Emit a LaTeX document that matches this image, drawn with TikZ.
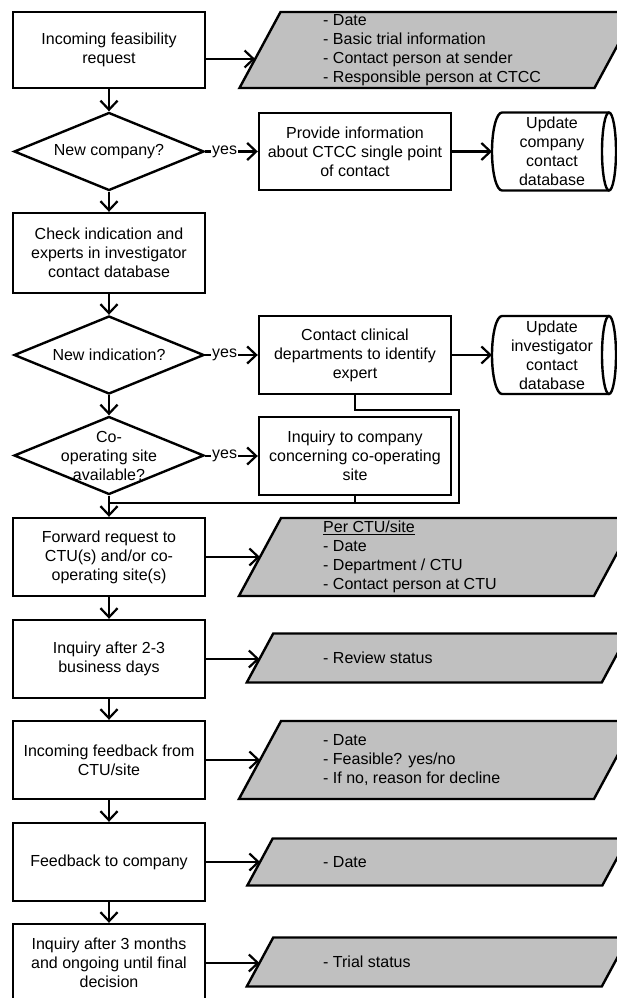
\documentclass[tikz,border=0pt]{standalone}
\usepackage{fontspec}
\setmainfont{Liberation Sans}
\usetikzlibrary{shapes.geometric,arrows.meta,calc}
\definecolor{iogray}{RGB}{192,192,192}
\tikzset{
  lw/.style={line width=2.4pt},
  arr/.style={lw,-{Straight Barb[length=9pt,width=17pt,line width=2.2pt]}},
  conn/.style={lw},
  box/.style={draw,lw,fill=white,rectangle,minimum width=192pt,minimum height=78pt,align=center,inner sep=1pt,font=\fontsize{16}{19}\selectfont},
  dia/.style={draw,lw,fill=white,diamond,minimum width=190pt,minimum height=78pt,inner sep=0pt},
  dtext/.style={align=center,inner sep=0pt,font=\fontsize{16}{19}\selectfont},
  iofill/.style={draw,lw,fill=iogray},
  iotext/.style={anchor=west,align=left,inner sep=0pt,font=\fontsize{16}{19}\selectfont},
  yeslab/.style={fill=white,inner sep=1pt,font=\fontsize{16}{19}\selectfont},
  dbtext/.style={align=center,inner sep=0pt,font=\fontsize{16}{19}\selectfont}
}
\newcommand\ioshape[5]{%
  \pgfmathsetmacro\dxx{0.54*#3}%
  \draw[iofill] ({260-\dxx},{#2+#3}) -- ({260+\dxx},{#2-#3}) -- ({615+\dxx},{#2-#3}) -- ({615-\dxx},{#2+#3}) -- cycle;
  \coordinate (#1a) at ({260-0.54*(#4-#2)},#4);
  \node[iotext] (#1) at (323,#2) {#5};
}
\newcommand\dbshape[3]{% name, yc, text
  \draw[lw,fill=white] (609,{#2-39}) -- (502,{#2-39}) arc[start angle=270,end angle=90,x radius=10,y radius=39] -- (609,{#2+39});
  \draw[lw,fill=white] (609,#2) ellipse[x radius=7,y radius=39];
  \coordinate (#1w) at (492,#2);
  \node[dbtext] (#1) at (552,#2) {#3};
}
\begin{document}
\begin{tikzpicture}[x=1pt,y=-1pt]
\useasboundingbox (0,0) rectangle (617,998);
\clip (0,0) rectangle (617,998);

% left column
\node[box] (b1) at (109,50) [minimum height=76pt] {Incoming feasibility\\request};
\node[dia] (d1) at (109,151.5) {};
\node[dtext] (d1t) at (d1) {New company?};
\node[box] (b2) at (109,253) [minimum height=80pt] {Check indication and\\experts in investigator\\contact database};
\node[dia] (d2) at (109,355) {};
\node[dtext] (d2t) at (d2) {New indication?};
\node[dia] (d3) at (109,455.5) {};
\node[dtext] (d3t) at (109,456) {Co-\\operating site\\available?};
\node[box] (b3) at (109,557) {Forward request to\\CTU(s) and/or co-\\operating site(s)};
\node[box] (b4) at (109,659) {Inquiry after 2-3\\business days};
\node[box] (b5) at (109,760) {Incoming feedback from\\CTU/site};
\node[box] (b6) at (109,862) {Feedback to company};
\node[box] (b7) at (109,963) {Inquiry after 3 months\\and ongoing until final\\decision};

% right boxes
\node[box] (r1) at (355,151.5) [minimum height=77pt] {Provide information\\about CTCC single point\\of contact};
\node[box] (r2) at (355,355) [minimum height=78pt] {Contact clinical\\departments to identify\\expert};
\node[box] (r3) at (355,456) [minimum height=78pt] {Inquiry to company\\concerning co-operating\\site};

% databases
\dbshape{db1}{151.5}{Update\\company\\contact\\database}
\dbshape{db2}{355}{Update\\investigator\\contact\\database}

% data shapes
\ioshape{p1}{50}{38}{59}{- Date\\- Basic trial information\\- Contact person at sender\\- Responsible person at CTCC}
\ioshape{p2}{557}{39}{557}{\underline{Per CTU/site}\\- Date\\- Department / CTU\\- Contact person at CTU}
\ioshape{p3}{658}{24.5}{659}{- Review status}
\ioshape{p4}{760}{39}{760}{- Date\\- Feasible? yes/no\\- If no, reason for decline}
\ioshape{p5}{862}{23.5}{862}{- Date}
\ioshape{p6}{962}{24.5}{963}{- Trial status}

% vertical flow
\draw[arr] (b1.south) -- (d1.north);
\draw[arr] (d1.south) -- (b2.north);
\draw[arr] (b2.south) -- (d2.north);
\draw[arr] (d2.south) -- (d3.north);
\draw[arr] (d3.south) -- (b3.north);
\draw[arr] (b3.south) -- (b4.north);
\draw[arr] (b4.south) -- (b5.north);
\draw[arr] (b5.south) -- (b6.north);
\draw[arr] (b6.south) -- (b7.north);

% yes branches
\draw[arr] (d1.east) -- node[yeslab,pos=0.37] {yes} (r1.west);
\draw[arr] (d2.east) -- node[yeslab,pos=0.37] {yes} (r2.west);
\draw[arr] (d3.east |- r3.west) -- node[yeslab,pos=0.37] {yes} (r3.west);
\draw[arr] (r1.east) -- (db1w);
\draw[arr] (r2.east) -- (db2w);

% join lines
\coordinate (j1) at (355,410);
\coordinate (j2) at (459,410);
\coordinate (j3) at (459,503);
\coordinate (j4) at (109,503);
\coordinate (j5) at (355,503);
\draw[conn] (r2.south) -- (j1) -- (j2) -- (j3) -- (j4);
\draw[conn] (r3.south) -- (j5);

% to data shapes
\draw[arr] (b1.east |- p1a) -- (p1a);
\draw[arr] (b3.east |- p2a) -- (p2a);
\draw[arr] (b4.east |- p3a) -- (p3a);
\draw[arr] (b5.east |- p4a) -- (p4a);
\draw[arr] (b6.east |- p5a) -- (p5a);
\draw[arr] (b7.east |- p6a) -- (p6a);
\end{tikzpicture}
\end{document}
